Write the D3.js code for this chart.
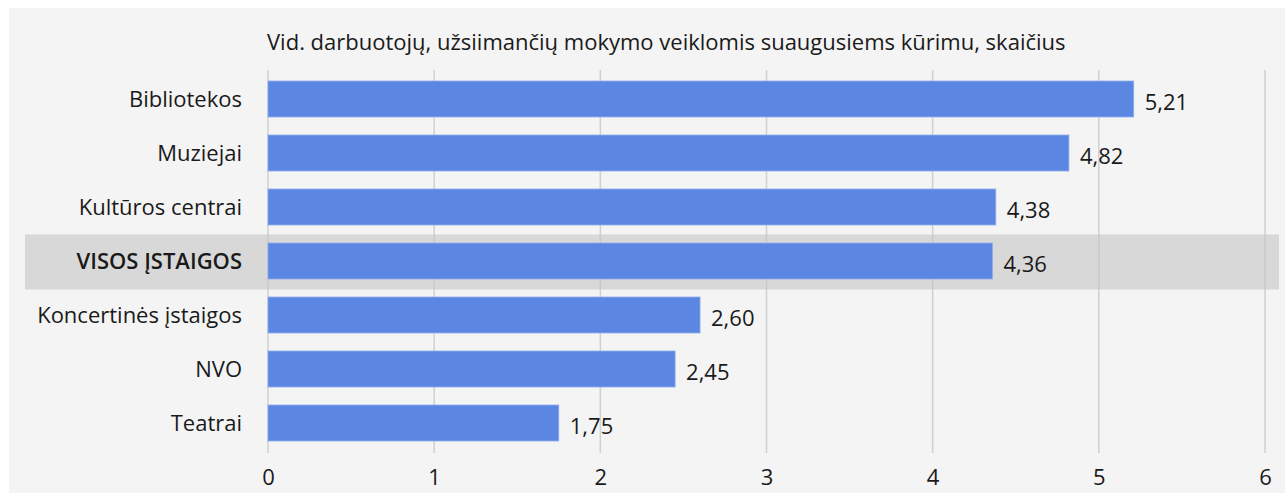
<!DOCTYPE html>
<html lang="lt">
<head>
<meta charset="utf-8">
<script src="https://cdn.jsdelivr.net/npm/d3@7/dist/d3.min.js"></script>
<style>
  html, body { margin: 0; padding: 0; background: #ffffff; }
  svg { display: block; font-family: "Open Sans", Roboto, sans-serif; }
</style>
</head>
<body>
<svg id="chart" width="1285" height="493"></svg>
<script>
// Average number of staff engaged in creating adult learning activities
const categories = ["Bibliotekos", "Muziejai", "Kultūros centrai", "VISOS ĮSTAIGOS",
                    "Koncertinės įstaigos", "NVO", "Teatrai"];
const values = [5.21, 4.82, 4.38, 4.36, 2.60, 2.45, 1.75];
const highlighted = ["VISOS ĮSTAIGOS"];
const xTicks = [0, 1, 2, 3, 4, 5, 6];
const title = "Vid. darbuotojų, užsiimančių mokymo veiklomis suaugusiems kūrimu, skaičius";

const FONT = "'Open Sans', Roboto, sans-serif";
const FS = 22;

const svg = d3.select("#chart");
const W = 1285, H = 493;

// panel background
svg.append("rect")
  .attr("x", 9).attr("y", 8)
  .attr("width", W - 9).attr("height", H - 8)
  .attr("fill", "#f4f4f4");

const plot = { left: 268, right: 1265, top: 72, bottom: 450 };

const x = d3.scaleLinear().domain([0, 6]).range([plot.left, plot.right]);
const y = d3.scaleBand().domain(categories)
  .range([plot.top, plot.bottom])
  .paddingInner(1 / 3).paddingOuter(1 / 6);

const fmt = v => d3.format(".2f")(v).replace(".", ",");

// highlighted row band
svg.selectAll("rect.hl").data(highlighted).join("rect")
  .attr("class", "hl")
  .attr("x", 25).attr("width", 1254)
  .attr("y", d => y(d) + y.bandwidth() / 2 - y.step() / 2 + 0.5)
  .attr("height", y.step() + 1)
  .attr("fill", "#d8d8d8");

// vertical gridlines
svg.append("g")
  .selectAll("line").data(xTicks).join("line")
  .attr("x1", d => x(d)).attr("x2", d => x(d))
  .attr("y1", 70).attr("y2", 453)
  .attr("stroke", "#c4c4c4")
  .attr("stroke-opacity", 0.75)
  .attr("stroke-width", 1.5);

// x axis tick labels
const xAxis = d3.axisBottom(x).tickValues(xTicks).tickSize(0).tickPadding(0)
  .tickFormat(d3.format("d"));
const gx = svg.append("g").attr("transform", `translate(0,${H - 8})`).call(xAxis);
gx.select(".domain").remove();
gx.selectAll("text")
  .attr("dy", 0)
  .attr("font-size", FS)
  .attr("font-family", FONT)
  .attr("fill", "#1a1a1a");

// bars
svg.append("g")
  .selectAll("rect").data(categories).join("rect")
  .attr("x", x(0))
  .attr("y", d => y(d))
  .attr("width", (d, i) => x(values[i]) - x(0))
  .attr("height", y.bandwidth())
  .attr("fill", "#5b87e3")
  .attr("stroke", "#8fadee")
  .attr("stroke-width", 0.8);

// category labels
const yAxis = d3.axisLeft(y).tickSize(0).tickPadding(0);
const gy = svg.append("g").attr("transform", `translate(${plot.left - 26},0)`).call(yAxis);
gy.select(".domain").remove();
gy.selectAll("text")
  .attr("font-size", FS)
  .attr("font-family", FONT)
  .attr("fill", "#1a1a1a")
  .attr("dy", "0.36em")
  .attr("font-weight", d => highlighted.includes(d) ? 600 : 400);

// value labels
svg.append("g")
  .selectAll("text").data(categories).join("text")
  .attr("x", (d, i) => x(values[i]) + 11)
  .attr("y", d => y(d) + y.bandwidth() / 2 + 3)
  .attr("dy", "0.36em")
  .attr("font-size", FS)
  .attr("fill", "#1a1a1a")
  .text((d, i) => fmt(values[i]));

// title
svg.append("text")
  .attr("x", plot.left - 1).attr("y", 50)
  .attr("font-size", FS)
  .attr("fill", "#1a1a1a")
  .text(title);
</script>
</body>
</html>
